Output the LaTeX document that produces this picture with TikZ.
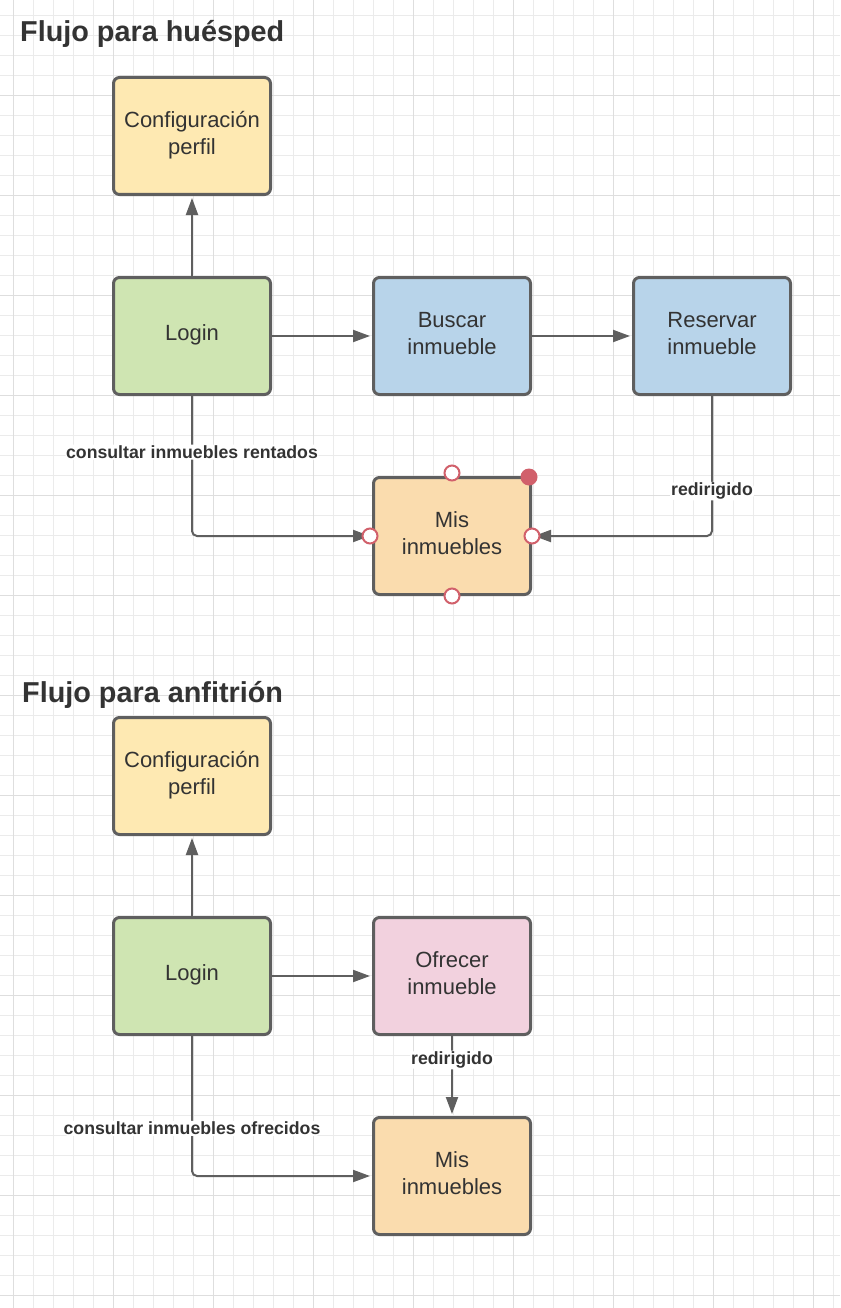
\documentclass[tikz,border=0pt]{standalone}
\usepackage{fontspec}
\setmainfont{Liberation Sans}
\usetikzlibrary{positioning,arrows.meta}
\definecolor{bordegris}{HTML}{5F5F5F}
\definecolor{textogris}{HTML}{333333}
\definecolor{amarillo}{HTML}{FEE9B2}
\definecolor{verde}{HTML}{CFE5B2}
\definecolor{azul}{HTML}{B8D4EA}
\definecolor{naranja}{HTML}{FADCAE}
\definecolor{rosa}{HTML}{F2D1DE}
\definecolor{rojo}{HTML}{D1606B}
\tikzset{
  caja/.style={draw=bordegris, line width=3pt, rounded corners=6pt,
    minimum width=157pt, minimum height=117pt, align=center, text depth=6pt,
    text=textogris, font=\fontsize{22}{27}\selectfont},
  flecha/.style={draw=bordegris, line width=2pt, rounded corners=5pt,
    shorten >=2pt, -{Triangle[length=17pt,width=12pt]}},
  etiqueta/.style={fill=white, inner sep=1pt, text=textogris,
    font=\fontsize{17.7}{20}\selectfont\bfseries},
  titulo/.style={anchor=base west, inner sep=0pt, text=textogris,
    font=\fontsize{28.8}{32}\selectfont\bfseries},
  asa/.style={circle, draw=rojo, fill=white, line width=2pt,
    minimum size=15pt, inner sep=0pt},
  menor/.style={draw=black!8, line width=0.8pt},
  mayor/.style={draw=black!13, line width=0.8pt}
}
\begin{document}
\begin{tikzpicture}[x=1pt, y=-1pt, node distance=80pt and 100pt]
\useasboundingbox[fill=white] (0,0) rectangle (840,1308);
% cuadricula
\foreach \gx in {13,33,...,833} \draw[menor] (\gx,0) -- (\gx,1308);
\foreach \gy in {15,35,...,1295} \draw[menor] (0,\gy) -- (840,\gy);
\foreach \gx in {13,113,...,813} \draw[mayor] (\gx,0) -- (\gx,1308);
\foreach \gy in {95,195,...,1295} \draw[mayor] (0,\gy) -- (840,\gy);

% flujo para huesped
\node[titulo] (tituloH) at (20,42) {Flujo para huésped};
\node[caja, fill=amarillo] (perfilH) at (192,136) {Configuración\\perfil};
\node[caja, fill=verde, below=of perfilH] (loginH) {Login};
\node[caja, fill=azul, right=of loginH] (buscar) {Buscar\\inmueble};
\node[caja, fill=azul, right=of buscar] (reservar) {Reservar\\inmueble};
\node[caja, fill=naranja, below=of buscar] (misH) {Mis\\inmuebles};

\draw[flecha] (loginH) -- (perfilH);
\draw[flecha] (loginH) -- (buscar);
\draw[flecha] (buscar) -- (reservar);
\draw[flecha] (loginH) |- node[etiqueta, pos=0.2] (lblRentados) {consultar inmuebles rentados} (misH);
\draw[flecha] (reservar) |- node[etiqueta, pos=0.34] (lblRedirH) {redirigido} (misH);

% asas de seleccion
\node[asa] (asaN) at ([yshift=3pt]misH.north) {};
\node[asa] (asaS) at (misH.south) {};
\node[asa] (asaW) at ([xshift=-2pt]misH.west) {};
\node[asa] (asaE) at (misH.east) {};
\node[asa, fill=rojo, draw=none, minimum size=17pt] (asaNE) at ([xshift=-3pt,yshift=-1pt]misH.north east) {};

% flujo para anfitrion
\node[titulo] (tituloA) at (22,702) {Flujo para anfitrión};
\node[caja, fill=amarillo] (perfilA) at (192,776) {Configuración\\perfil};
\node[caja, fill=verde, below=of perfilA] (loginA) {Login};
\node[caja, fill=rosa, right=of loginA] (ofrecer) {Ofrecer\\inmueble};
\node[caja, fill=naranja, below=of ofrecer] (misA) {Mis\\inmuebles};

\draw[flecha] (loginA) -- (perfilA);
\draw[flecha] (loginA) -- (ofrecer);
\draw[flecha] (ofrecer) -- node[etiqueta, pos=0.3] (lblRedirA) {redirigido} (misA);
\draw[flecha] (loginA) |- node[etiqueta, pos=0.33] (lblOfrecidos) {consultar inmuebles ofrecidos} (misA);
\end{tikzpicture}
\end{document}
